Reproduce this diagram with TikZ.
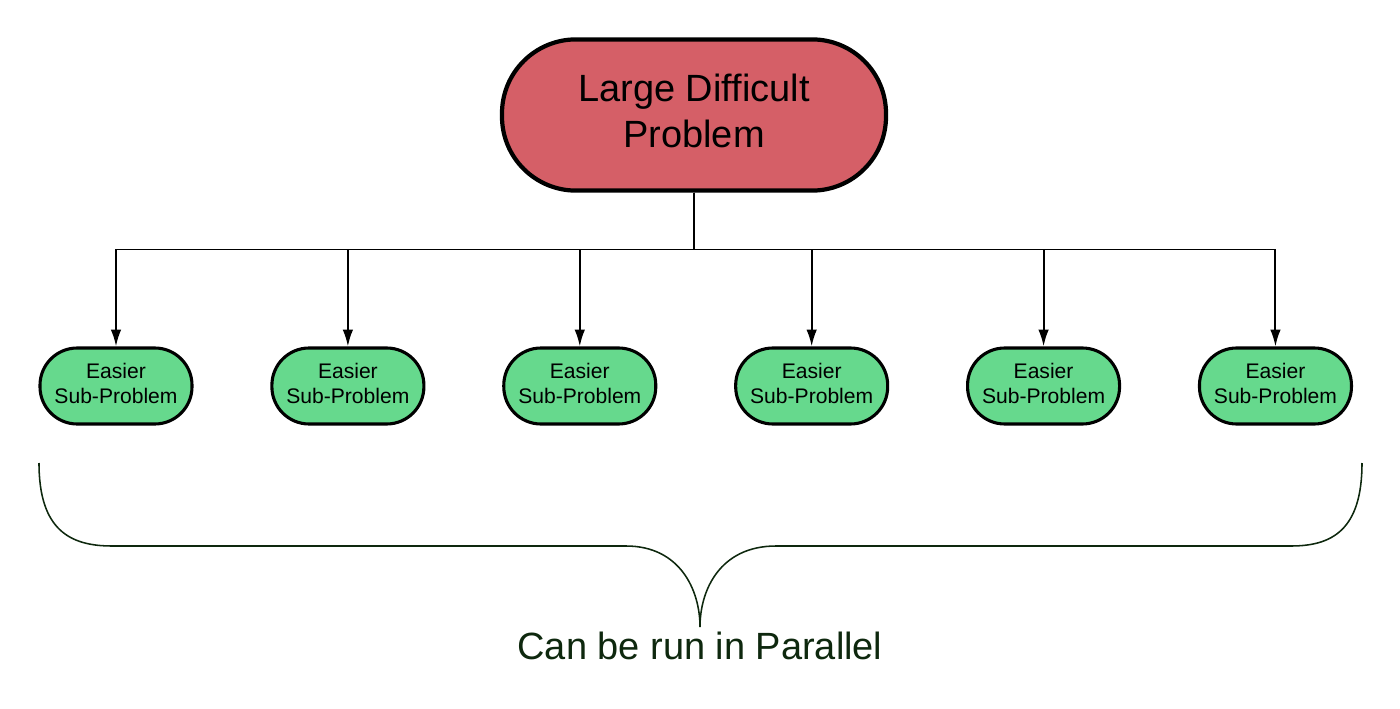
\documentclass[tikz,border=0pt]{standalone}
\usepackage{fontspec}
\setmainfont{Liberation Sans}
\usepackage{tikz}
\usetikzlibrary{arrows,arrows.meta,calc}
\usetikzlibrary{positioning}
\definecolor{problemColor}{RGB}{213,95,103}
\definecolor{subColor}{RGB}{102,217,141}
\definecolor{braceColor}{RGB}{14,40,14}
\tikzstyle{bignode} = [draw,line width=3pt,fill=problemColor,rounded corners=1.85cm,minimum width=9.6cm,minimum height=3.78cm,text depth=0.2cm,align=center,font=\fontsize{27}{33}\selectfont]
\tikzstyle{subnode} = [draw,line width=2.2pt,fill=subColor,rounded corners=0.93cm,minimum width=3.8cm,minimum height=1.9cm,text depth=0.12cm,align=center,font=\fontsize{15}{18}\selectfont]

\begin{document}
\begin{tikzpicture}[node distance=1.92cm,>={Latex[length=12pt,width=7.5pt]}]
%
\tikzset{every path/.style={line width=1.4pt}}
\useasboundingbox (0,0) rectangle (35,-17.725);

\node (problem) [bignode] at (17.35,-2.875) {Large Difficult\\Problem};
\node (sub1) [subnode] at (2.9,-9.65) {Easier\\Sub-Problem};
\node (sub2) [subnode, right = of sub1] {Easier\\Sub-Problem};
\node (sub3) [subnode, right = of sub2] {Easier\\Sub-Problem};
\node (sub4) [subnode, right = of sub3] {Easier\\Sub-Problem};
\node (sub5) [subnode, right = of sub4] {Easier\\Sub-Problem};
\node (sub6) [subnode, right = of sub5] {Easier\\Sub-Problem};
\coordinate (split) at ($ (problem.south)+(0,-1.42) $);

%
\foreach \i in {1,...,6}
  \draw [->] (problem.south) -- (split) -| (sub\i.north);

%
\coordinate (tip) at (17.5,-15.675);
\draw [braceColor,line width=1.1pt] (0.975,-11.575) .. controls (0.975,-13.25) and (1.75,-13.65) .. (2.8,-13.65)
  -- (15.65,-13.65) .. controls (17.0,-13.65) and (17.5,-14.75) .. (tip)
  .. controls (17.5,-14.75) and (18.0,-13.65) .. (19.4,-13.65)
  -- (32.275,-13.65) .. controls (33.3,-13.65) and (34.05,-13.25) .. (34.05,-11.575);
\node (parallel) [text=braceColor,font=\fontsize{27}{33}\selectfont] at (17.5,-16.15) {Can be run in Parallel};
\end{tikzpicture}
\end{document}
